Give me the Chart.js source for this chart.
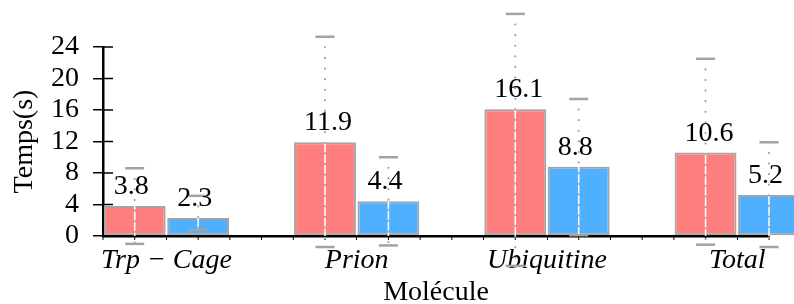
<!DOCTYPE html>
<html>
<head>
<meta charset="utf-8">
<script src="https://cdn.jsdelivr.net/npm/chart.js@4/dist/chart.umd.min.js"></script>
<style>
  html, body { margin: 0; padding: 0; background: #fff; overflow: hidden; }
  canvas { display: block; }
</style>
</head>
<body>
<canvas id="c" width="794" height="304"></canvas>
<script>
// ---- data ----
const categories = ['Trp \u2212 Cage', 'Prion', 'Ubiquitine', 'Total'];
const seriesRed  = [3.8, 11.9, 16.1, 10.6];
const seriesBlue = [2.3, 4.4, 8.8, 5.2];
const errLowRed   = [-1.0, -1.4, -3.8, -1.1];
const errHighRed  = [8.6, 25.3, 28.2, 22.5];
const errLowBlue  = [0.75, -1.2, 0.1, -1.4];
const errHighBlue = [5.1, 10.0, 17.4, 11.9];
const yMin = 0, yMax = 24, yStep = 4;
const yTitle = 'Temps(s)';
const xTitle = 'Molécule';

const FONT = "'Liberation Serif', 'Times New Roman', serif";
const FS = 28;
const GRAY = '#a3a3a3';

function line(ctx, x1, y1, x2, y2) {
  ctx.beginPath(); ctx.moveTo(x1, y1); ctx.lineTo(x2, y2); ctx.stroke();
}

const axisExtras = {
  id: 'axisExtras',
  beforeDatasetsDraw(chart) {
    const ctx = chart.ctx, ys = chart.scales.y, xs = chart.scales.x;
    const area = chart.chartArea;
    ctx.save();
    ctx.strokeStyle = '#000';
    ctx.lineWidth = 1.5;
    ys.ticks.forEach(t => {
      const py = ys.getPixelForValue(t.value);
      line(ctx, area.left, py, area.left + 10, py);
    });
    ctx.lineWidth = 1;
    const k0 = Math.ceil(xs.min * 6 - 1e-6), k1 = Math.floor(xs.max * 6 + 1e-6);
    for (let k = k0; k <= k1; k++) {
      if (k % 6 === 0) continue;
      const px = xs.getPixelForValue(k / 6);
      line(ctx, px, area.bottom, px, area.bottom + 4);
    }
    ctx.restore();
  }
};

const errorBars = {
  id: 'errorBars',
  afterDatasetsDraw(chart) {
    const ctx = chart.ctx, ys = chart.scales.y;
    const base = ys.getPixelForValue(0);
    chart.data.datasets.forEach((ds, di) => {
      const meta = chart.getDatasetMeta(di);
      meta.data.forEach((bar, i) => {
        const yHi = ys.getPixelForValue(ds.errHigh[i]);
        const yLo = ys.getPixelForValue(ds.errLow[i]);
        ctx.save();
        const wTop = Math.max(yHi, bar.y), wBot = Math.min(yLo, base);
        if (wBot > wTop) {
          ctx.strokeStyle = '#fff'; ctx.lineWidth = 1.5;
          line(ctx, bar.x, wTop, bar.x, wBot);
        }
        ctx.setLineDash([0, 10.6]);
        ctx.lineCap = 'round';
        ctx.lineWidth = 2.2;
        ctx.strokeStyle = GRAY;
        line(ctx, bar.x, yHi, bar.x, yLo);
        ctx.setLineDash([]);
        ctx.lineCap = 'butt';
        ctx.lineWidth = 2.5;
        line(ctx, bar.x - 9.5, yHi, bar.x + 9.5, yHi);
        line(ctx, bar.x - 9.5, yLo, bar.x + 9.5, yLo);
        ctx.restore();
      });
    });
  }
};

const valueLabels = {
  id: 'valueLabels',
  afterDatasetsDraw(chart) {
    const ctx = chart.ctx;
    ctx.save();
    ctx.font = FS + 'px ' + FONT;
    ctx.fillStyle = '#000';
    ctx.textAlign = 'left';
    ctx.textBaseline = 'alphabetic';
    chart.data.datasets.forEach((ds, di) => {
      const meta = chart.getDatasetMeta(di);
      meta.data.forEach((bar, i) => {
        ctx.fillText(ds.data[i].y.toFixed(1), bar.x - 21, bar.y - 12);
      });
    });
    ctx.restore();
  }
};

new Chart(document.getElementById('c'), {
  type: 'bar',
  data: {
    datasets: [
      {
        data: seriesRed.map((v, i) => ({ x: i, y: v })),
        errLow: errLowRed, errHigh: errHighRed,
        backgroundColor: '#ff7f7f',
        borderColor: GRAY, borderWidth: 2, borderSkipped: false,
        categoryPercentage: 2 / 3, barPercentage: 0.975,
        clip: false
      },
      {
        data: seriesBlue.map((v, i) => ({ x: i, y: v })),
        errLow: errLowBlue, errHigh: errHighBlue,
        backgroundColor: '#4fb0ff',
        borderColor: GRAY, borderWidth: 2, borderSkipped: false,
        categoryPercentage: 2 / 3, barPercentage: 0.975,
        clip: false
      }
    ]
  },
  options: {
    responsive: false,
    animation: false,
    devicePixelRatio: 1,
    layout: { padding: { top: 47, right: 25, bottom: 0, left: 0 } },
    plugins: { legend: { display: false }, tooltip: { enabled: false } },
    scales: {
      x: {
        type: 'linear',
        min: -1 / 3,
        max: 19 / 6,
        offset: false,
        afterFit: s => { s.height = 68; },
        grid: { drawOnChartArea: false, tickLength: 4, color: '#000', lineWidth: 1, offset: false },
        border: { display: true, color: '#000', width: 2.5 },
        ticks: {
          stepSize: 1,
          includeBounds: false,
          autoSkip: false,
          maxRotation: 0,
          padding: 4,
          color: '#000',
          font: { family: FONT, size: FS, style: 'italic' },
          callback: v => {
            const r = Math.round(v);
            return (Math.abs(v - r) < 1e-6 && categories[r] !== undefined) ? categories[r] : '';
          }
        },
        title: {
          display: true, text: xTitle, color: '#000',
          font: { family: FONT, size: FS },
          padding: { top: 0, bottom: -5.3 }
        }
      },
      y: {
        min: yMin, max: yMax,
        afterFit: s => { s.width = 103; },
        grid: { drawOnChartArea: false, tickLength: 10, color: '#000', lineWidth: 1.5 },
        border: { display: true, color: '#000', width: 2.5 },
        ticks: {
          stepSize: yStep,
          autoSkip: false,
          padding: 14,
          color: '#000',
          font: { family: FONT, size: FS }
        },
        title: {
          display: true, text: yTitle, color: '#000',
          font: { family: FONT, size: FS },
          padding: { top: 8, bottom: 0 }
        }
      }
    }
  },
  plugins: [axisExtras, errorBars, valueLabels]
});
</script>
</body>
</html>
